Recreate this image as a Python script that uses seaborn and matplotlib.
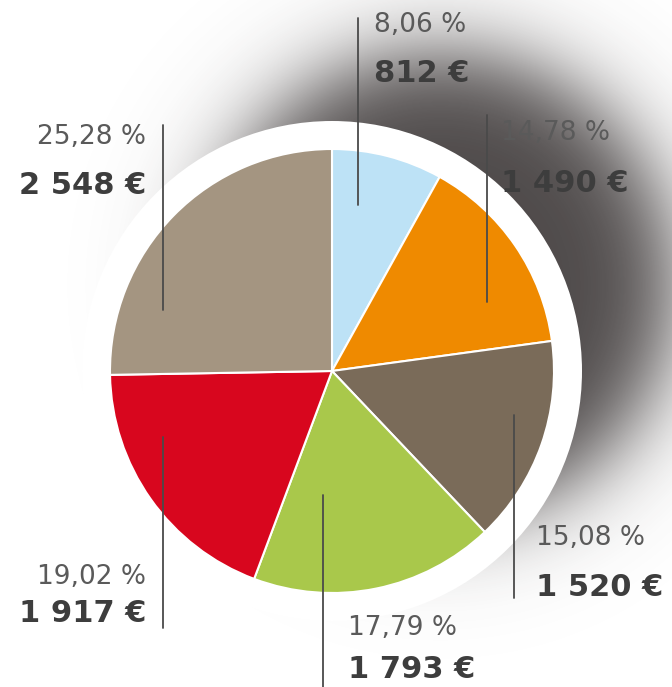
import numpy as np
import seaborn as sns
import matplotlib.pyplot as plt
from matplotlib.patches import Circle

# data
shares = [8.06, 14.78, 15.08, 17.79, 19.02, 25.28]
amounts = ["812 €", "1 490 €", "1 520 €", "1 793 €", "1 917 €", "2 548 €"]
pct_labels = ["8,06 %", "14,78 %", "15,08 %", "17,79 %", "19,02 %", "25,28 %"]
colors = ["#bde2f6", "#ef8a00", "#7a6b59", "#a9c84b", "#d8061e", "#a49581"]

# label layout (pixel coords, y down): line x, line top, line bottom, text x, pct y, amount y, align
label_pos = [
    (358, 18, 205, 374, 25, 73, "left"),
    (487, 115, 302, 501, 133, 183, "left"),
    (514, 415, 598, 536, 538, 587, "left"),
    (323, 495, 687, 348, 628, 670, "left"),
    (163, 437, 628, 146, 577, 614, "right"),
    (163, 125, 310, 146, 137, 186, "right"),
]

W, H = 672, 687
cx, cy, r = 332, 371, 222

sns.set_theme(style="white")
plt.rcParams['font.family'] = ['DejaVu Sans']

fig = plt.figure(figsize=(W / 100, H / 100), dpi=100)
ax = fig.add_axes([0, 0, 1, 1])

# soft shadow to the upper right
yy, xx = np.mgrid[0:H, 0:W]
d = np.hypot(xx - 440, yy - 285)
alpha = 0.9 / (1 + np.exp((d - 232) / 26))
shadow = np.zeros((H, W, 4))
shadow[..., 0] = 0.23
shadow[..., 1] = 0.21
shadow[..., 2] = 0.21
shadow[..., 3] = alpha
ax.imshow(shadow, extent=(0, W, H, 0), origin="upper", zorder=0, interpolation="bilinear")

ax.add_patch(Circle((cx, cy), 250, facecolor="white", edgecolor="none", zorder=1))

wedges, _ = ax.pie(shares, colors=sns.color_palette(colors), startangle=-90, counterclock=True,
                   center=(cx, cy), radius=r,
                   wedgeprops=dict(edgecolor="white", linewidth=1.5, zorder=2))

for (lx, y0, y1, tx, py, ay, ha), p, a in zip(label_pos, pct_labels, amounts):
    ax.plot([lx, lx], [y0, y1], color="#4a4a4a", lw=1.3, zorder=3)
    ax.text(tx, py, p, ha=ha, va="center", fontsize=19, color="#5a5a5a", zorder=4)
    ax.text(tx, ay, a, ha=ha, va="center", fontsize=22, fontweight="bold", color="#3d3d3d", zorder=4)

ax.set_xlim(0, W)
ax.set_ylim(H, 0)
ax.set_aspect("auto")
ax.axis("off")

fig.savefig("out.png", dpi=100)
